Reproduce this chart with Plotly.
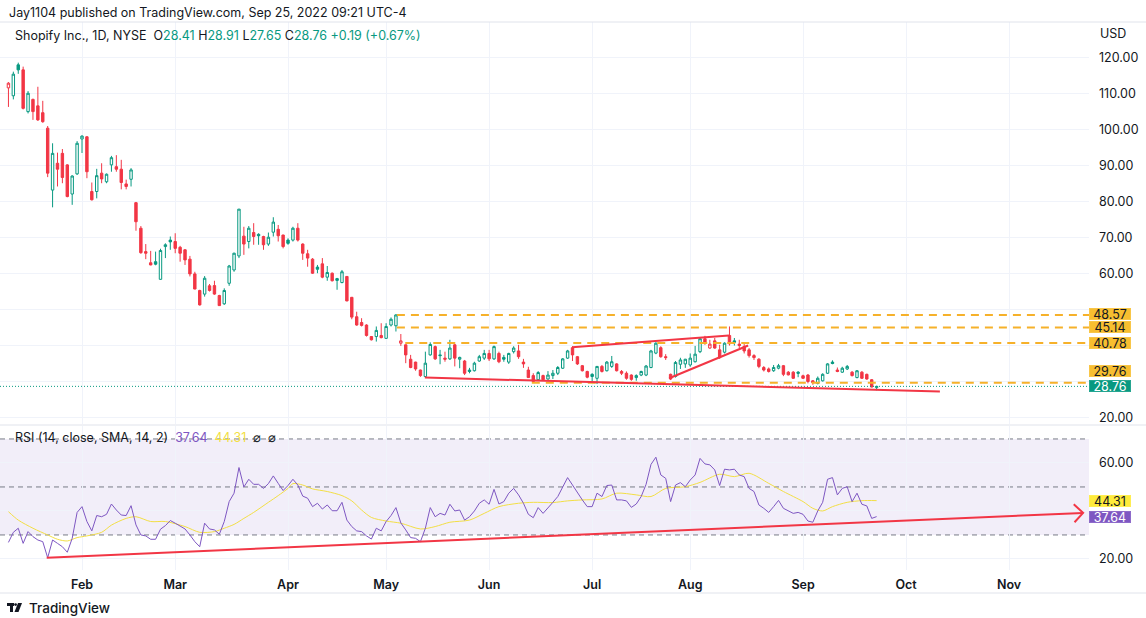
import math
import pandas as pd
import plotly.graph_objects as go

# ---------------- data ----------------
HOLIDAYS = ["2022-01-17", "2022-02-21", "2022-04-15", "2022-05-30", "2022-06-20",
            "2022-07-04", "2022-09-05", "2022-11-24", "2022-12-26"]
trading_days = pd.bdate_range("2022-01-03", "2022-12-30", freq="C", holidays=HOLIDAYS)
FIRST_BAR = "2022-01-10"
PRIOR_CLOSE = 116.0

open_ = [111.7, 109.5, 118.1, 116.7, 105.1, 108.5, 106.7, 104.8, 100.5, 83.3,
         90.75, 93.5, 90.3, 82.2, 87.8, 97.5, 98.1, 82.9, 82.9, 88.0,
         85.6, 90.3, 89.8, 89.1, 85.0, 86.3, 79.8, 72.7, 66.2, 63.1,
         63.4, 58.5, 67.6, 69.4, 69.0, 67.4, 66.7, 64.1, 60.0, 55.4,
         54.4, 56.7, 56.75, 54.0, 51.7, 57.4, 61.1, 65.0, 70.5, 69.0,
         71.5, 71.0, 70.4, 68.3, 71.6, 72.4, 70.8, 69.4, 69.4, 72.7,
         68.3, 65.6, 64.1, 61.9, 62.8, 59.1, 60.2, 58.7, 57.6, 59.3,
         53.5, 48.1, 46.5, 45.8, 42.6, 42.6, 42.9, 42.1, 45.8, 45.6,
         40.75, 40.3, 36.3, 35.5, 33.3, 31.5, 37.5, 39.8, 37.5, 36.6,
         36.4, 40.3, 36.3, 35.8, 33.3, 33.1, 35.8, 36.6, 37.9, 36.4,
         37.9, 36.8, 35.5, 38.4, 38.6, 35.5, 33.3, 31.75, 30.6, 31.75,
         30.8, 31.75, 32.4, 33.8, 36.6, 39.5, 37.0, 34.5, 32.9, 32.1,
         31.0, 34.3, 33.1, 34.3, 35.0, 32.9, 32.4, 31.9, 31.2, 31.9,
         31.9, 34.0, 38.0, 39.5, 37.0, 32.1, 31.5, 34.9, 35.0, 34.7,
         35.6, 38.4, 42.0, 39.4, 41.4, 38.9, 38.25, 42.9, 41.4, 40.5,
         39.8, 38.9, 37.3, 36.3, 34.0, 33.6, 33.1, 33.8, 34.5, 32.7,
         32.7, 32.7, 31.7, 31.9, 30.3, 29.6, 30.3, 32.4, 35.5, 33.3,
         32.7, 33.6, 32.7, 31.2, 32.7, 32.1, 30.6, 28.41]
high = [113.3, 116.2, 118.7, 117.6, 110.8, 108.7, 112.0, 108.1, 101.1, 96.3,
        93.7, 94.7, 90.5, 87.4, 96.9, 98.5, 98.3, 85.4, 89.2, 90.75,
        87.9, 92.8, 93.0, 91.7, 86.2, 89.4, 80.0, 73.3, 68.3, 66.4,
        66.2, 67.0, 68.5, 70.4, 71.3, 67.8, 66.9, 65.0, 60.6, 55.6,
        59.4, 57.2, 58.1, 54.2, 56.0, 62.5, 65.9, 78.0, 73.1, 73.3,
        74.1, 71.3, 70.6, 71.5, 75.75, 73.6, 70.9, 69.9, 73.1, 74.1,
        68.5, 66.7, 64.4, 62.5, 64.4, 62.2, 60.4, 58.9, 61.1, 59.4,
        53.6, 49.5, 47.7, 46.0, 42.7, 45.4, 46.3, 46.3, 47.9, 48.8,
        43.3, 40.4, 37.5, 35.6, 33.4, 38.4, 41.0, 40.1, 38.9, 38.4,
        41.7, 40.5, 37.0, 36.1, 33.9, 35.6, 37.5, 38.9, 38.9, 40.1,
        38.4, 37.5, 38.1, 39.9, 40.3, 36.4, 34.2, 32.4, 33.0, 32.0,
        33.0, 33.3, 34.4, 36.6, 38.9, 39.9, 37.2, 34.7, 33.1, 32.4,
        34.4, 34.7, 35.8, 37.2, 35.2, 33.3, 32.9, 32.1, 32.1, 33.1,
        34.7, 38.9, 41.0, 39.9, 37.7, 32.3, 35.8, 36.7, 36.4, 37.9,
        40.0, 42.2, 42.8, 41.7, 42.2, 40.3, 41.0, 45.4, 42.2, 41.7,
        40.5, 39.4, 37.7, 36.6, 34.4, 34.0, 34.7, 35.0, 34.7, 33.0,
        33.0, 33.0, 32.0, 32.2, 30.5, 31.5, 32.4, 35.2, 36.0, 34.0,
        34.2, 34.7, 33.0, 33.3, 33.0, 32.3, 30.8, 28.91]
low = [106.4, 108.5, 115.6, 105.7, 104.6, 102.8, 102.5, 102.0, 86.9, 78.5,
       84.3, 85.2, 81.3, 79.2, 87.5, 93.6, 86.6, 80.4, 81.0, 85.2,
       85.2, 88.4, 88.4, 83.5, 83.5, 84.3, 72.0, 65.6, 64.1, 62.4,
       62.4, 58.4, 64.4, 66.7, 65.75, 63.4, 62.5, 59.3, 55.75, 51.2,
       53.7, 55.1, 54.2, 51.1, 51.4, 56.7, 60.6, 64.4, 65.3, 67.1,
       68.1, 68.1, 66.7, 67.8, 70.4, 69.0, 67.1, 68.1, 69.0, 69.0,
       63.9, 62.0, 60.0, 60.2, 58.8, 58.1, 57.9, 55.6, 57.4, 52.4,
       47.4, 45.6, 45.4, 42.6, 41.5, 41.2, 42.1, 42.0, 45.4, 44.0,
       40.0, 35.2, 33.8, 33.1, 31.4, 31.2, 37.3, 36.1, 34.9, 35.6,
       36.1, 34.3, 33.8, 31.9, 32.4, 32.9, 35.6, 36.1, 35.8, 36.1,
       35.2, 35.6, 35.0, 37.9, 36.4, 33.9, 31.1, 30.0, 30.3, 30.3,
       30.6, 30.8, 31.9, 33.6, 36.4, 35.8, 34.7, 32.9, 31.0, 29.9,
       29.4, 32.6, 32.9, 33.9, 32.9, 31.9, 30.6, 30.3, 30.3, 31.6,
       31.6, 33.8, 37.7, 36.7, 36.1, 30.5, 31.2, 33.6, 33.9, 34.2,
       35.4, 38.0, 40.3, 39.2, 39.2, 36.4, 37.9, 40.1, 40.1, 39.4,
       37.9, 36.75, 36.1, 33.8, 32.9, 32.6, 32.8, 33.5, 31.6, 31.8,
       30.8, 31.3, 30.8, 29.6, 29.2, 29.3, 30.1, 32.2, 34.9, 32.7,
       32.5, 33.3, 31.5, 31.0, 30.8, 30.6, 28.5, 27.65]
close = [113.0, 115.5, 116.7, 106.0, 110.2, 105.1, 102.8, 102.3, 88.0, 93.5,
         89.1, 86.8, 81.5, 87.2, 96.3, 98.3, 88.4, 80.6, 87.3, 86.4,
         87.7, 92.3, 89.1, 85.4, 84.3, 88.9, 74.5, 65.9, 65.75, 62.5,
         62.7, 66.5, 68.1, 68.9, 67.1, 65.75, 63.9, 60.0, 55.8, 51.4,
         58.8, 55.4, 54.4, 51.2, 55.4, 62.2, 65.75, 78.0, 68.3, 72.7,
         70.4, 70.6, 68.1, 70.2, 74.4, 70.6, 67.6, 68.5, 72.7, 69.4,
         65.75, 64.4, 60.2, 61.3, 59.1, 60.4, 58.1, 58.2, 60.6, 52.5,
         48.0, 45.8, 45.7, 42.9, 41.7, 44.3, 42.3, 45.4, 47.4, 48.6,
         41.4, 37.5, 34.0, 33.6, 31.75, 35.2, 40.4, 36.4, 37.3, 36.3,
         39.4, 36.6, 36.8, 32.4, 32.9, 35.2, 37.0, 37.9, 36.4, 39.8,
         35.6, 36.3, 37.9, 39.4, 37.0, 35.0, 31.2, 30.1, 32.6, 30.6,
         31.9, 32.4, 34.0, 36.4, 38.6, 37.5, 35.0, 33.1, 31.3, 31.5,
         34.3, 32.9, 35.5, 35.6, 33.1, 32.4, 31.0, 30.7, 31.75, 32.9,
         34.4, 38.6, 40.75, 37.0, 36.75, 30.8, 35.4, 36.1, 36.3, 36.6,
         37.7, 42.0, 40.75, 40.5, 39.4, 36.75, 40.75, 40.6, 41.0, 40.1,
         38.6, 37.3, 36.75, 34.3, 33.3, 32.9, 34.0, 34.5, 32.1, 31.95,
         31.0, 32.4, 31.0, 30.1, 29.8, 31.0, 32.1, 35.0, 35.1, 32.9,
         33.8, 34.3, 31.75, 33.1, 31.0, 30.8, 28.57, 28.76]

rsi = [26.9, 31.1, 32.8, 26.5, 31.4, 29.3, 27.9, 27.2, 20.5, 27.9,
       26.5, 25.1, 22.8, 28.6, 39.4, 41.8, 35.6, 31.7, 38.1, 37.6,
       38.6, 42.9, 40.4, 38.3, 38.1, 42.2, 34.2, 30.0, 29.6, 28.2,
       28.2, 32.4, 33.9, 36.0, 34.9, 33.7, 32.5, 30.0, 27.2, 25.1,
       34.9, 32.5, 32.1, 30.3, 35.6, 43.9, 47.4, 58.1, 50.0, 53.2,
       51.1, 51.1, 49.4, 51.4, 54.6, 51.5, 48.5, 50.6, 53.2, 50.8,
       46.2, 45.3, 41.8, 43.2, 40.8, 42.5, 40.1, 40.1, 43.6, 36.2,
       33.5, 31.7, 31.4, 29.6, 28.3, 32.8, 31.7, 35.6, 38.1, 41.4,
       35.0, 32.1, 28.9, 28.6, 27.2, 32.8, 41.4, 37.6, 39.0, 38.3,
       42.8, 40.0, 40.4, 36.2, 37.6, 40.0, 43.2, 44.6, 42.8, 49.0,
       42.9, 43.9, 47.4, 49.4, 46.7, 43.2, 38.6, 37.2, 41.4, 39.0,
       41.1, 43.6, 46.0, 50.1, 53.9, 50.8, 47.4, 44.6, 41.8, 41.8,
       47.4, 46.0, 50.6, 50.8, 44.6, 44.6, 44.2, 41.5, 42.9, 46.0,
       51.1, 59.4, 62.4, 55.0, 53.6, 43.9, 50.8, 51.8, 50.1, 52.9,
       55.0, 61.9, 59.6, 59.2, 57.1, 50.6, 57.4, 57.1, 57.4, 55.0,
       54.3, 49.4, 48.1, 42.5, 41.1, 39.4, 41.8, 44.4, 41.1, 40.0,
       39.0, 39.4, 38.6, 35.8, 35.3, 40.0, 43.6, 53.2, 53.9, 46.7,
       49.4, 50.1, 43.9, 47.4, 42.8, 42.1, 36.9, 37.64]

# RSI-based MA (trading-day index, value)
sma_at = [5, 7, 10, 13, 15, 17, 19, 21, 24, 26, 29, 31, 34, 37, 41, 44, 47, 49, 51, 53,
          55, 58, 60, 62, 63, 65, 67, 70, 73, 75, 77, 79, 82, 85, 89, 92, 95, 99, 102, 105,
          109, 112, 116, 119, 122, 126, 129, 133, 136, 139, 143, 146, 150, 153, 156, 160, 163,
          167, 169, 171, 173, 176, 179, 182]
sma_val = [39.7, 36.2, 32.8, 30.0, 28.2, 27.5, 28.9, 29.6, 31.1, 34.1, 36.9, 37.6, 35.6, 35.6,
           33.5, 31.1, 31.4, 32.8, 34.4, 36.9, 39.4, 43.6, 46.4, 49.4, 51.4, 50.8, 49.2, 48.1,
           46.4, 44.2, 40.4, 37.3, 35.8, 34.9, 32.5, 33.5, 35.3, 36.2, 39.0, 41.8, 43.2, 43.6,
           43.5, 44.2, 44.6, 45.0, 47.4, 46.7, 46.0, 49.4, 50.1, 51.9, 55.3, 54.3, 55.7, 51.5,
           48.1, 43.9, 41.1, 40.0, 41.8, 43.6, 44.3, 44.31]

# user drawings (trading-day index, value)
level_prices = [48.57, 45.14, 40.78, 29.76]
level_from = [84.2, 84.2, 85.9, 111.7]
level_label_shift = [1, 0, 0, 12]
support_x, support_y = [89.9, 194.9], [31.2, 27.3]
upper_x, upper_y = [119.9, 151.9], [39.6, 42.9]
rising_x, rising_y = [139.7, 155.8], [31.0, 40.1]
rsi_trend_x, rsi_trend_y = [12.8, 224.1], [20.5, 39.2]

MONTHS = ["Feb", "Mar", "Apr", "May", "Jun", "Jul", "Aug", "Sep", "Oct", "Nov"]
price_ticks = [20, 30, 40, 50, 60, 70, 80, 90, 100, 110, 120]
price_hidden = [30, 40, 50]        # tick texts covered by value labels in the original
rsi_ticks = [20, 40, 60]
rsi_hidden = [40]
LAST_CLOSE = 28.76
LAST_RSI, LAST_SMA = 37.64, 44.31

# ---------------- derived ----------------
start = trading_days.get_loc(pd.Timestamp(FIRST_BAR))
n = len(close)
idx = list(range(start, start + n))
month_idx = []
for k, m in enumerate(MONTHS):
    mnum = k + 2
    first = [j for j, d in enumerate(trading_days) if d.month == mnum][0]
    month_idx.append(first)

prev = [PRIOR_CLOSE] + close[:-1]
up = [c >= p for c, p in zip(close, prev)]

# ---------------- style/geometry ----------------
W, H = 1146, 618
PLOT_R, PLOT_T, PLOT_B = 1089, 22, 570
PRICE_BOTTOM_PX, RSI_TOP_PX = 424, 426
X_RANGE = [3.28, 225.3]
PRICE_RANGE = [18.3, 130.0]
RSI_RANGE = [15.4, 75.4]
GREEN, RED = "#089981", "#F23645"
ORANGE, ORANGE_LBL = "#F6B12A", "#F7BE30"
PURPLE, YELLOW = "#7E57C2", "#F3DF45"
TEXT = "#131722"
GRID = "#F0F3FA"
FONT = "Inter, Roboto, Arial, sans-serif"


def px(x):
    return x / PLOT_R


def py(y):
    return (PLOT_B - y) / (PLOT_B - PLOT_T)


fig = go.Figure()


def candles(sel, color):
    return go.Candlestick(
        x=[idx[k] for k in sel], open=[open_[k] for k in sel], high=[high[k] for k in sel],
        low=[low[k] for k in sel], close=[close[k] for k in sel],
        increasing=dict(line=dict(color=color, width=1), fillcolor="#FFFFFF"),
        decreasing=dict(line=dict(color=color, width=1), fillcolor=color),
        whiskerwidth=0, xaxis="x", yaxis="y", hoverinfo="skip")


fig.add_trace(candles([k for k in range(n) if up[k]], GREEN))
fig.add_trace(candles([k for k in range(n) if not up[k]], RED))

# last price dotted line
fig.add_trace(go.Scatter(x=X_RANGE, y=[LAST_CLOSE, LAST_CLOSE], mode="lines",
                         line=dict(color=GREEN, width=1, dash="1px,2px"), xaxis="x", yaxis="y"))
# horizontal levels
for lv, x0 in zip(level_prices, level_from):
    fig.add_trace(go.Scatter(x=[x0, X_RANGE[1]], y=[lv, lv], mode="lines",
                             line=dict(color=ORANGE, width=2, dash="8px,6px"), xaxis="x", yaxis="y"))
# trend lines
for xs, ys in [(support_x, support_y), (upper_x, upper_y), (rising_x, rising_y)]:
    fig.add_trace(go.Scatter(x=xs, y=ys, mode="lines", line=dict(color=RED, width=2),
                             xaxis="x", yaxis="y"))

# RSI pane
fig.add_trace(go.Scatter(x=sma_at, y=sma_val, mode="lines",
                         line=dict(color=YELLOW, width=1, shape="spline", smoothing=0.8),
                         xaxis="x2", yaxis="y2"))
fig.add_trace(go.Scatter(x=idx, y=rsi, mode="lines", line=dict(color=PURPLE, width=1),
                         xaxis="x2", yaxis="y2"))
fig.add_trace(go.Scatter(x=rsi_trend_x, y=rsi_trend_y, mode="lines", line=dict(color=RED, width=2),
                         xaxis="x2", yaxis="y2"))
# arrow chevron at end of RSI trend line
ppb = PLOT_R / (X_RANGE[1] - X_RANGE[0])
ppr = (PLOT_B - RSI_TOP_PX) / (RSI_RANGE[1] - RSI_RANGE[0])
dxp = (rsi_trend_x[1] - rsi_trend_x[0]) * ppb
dyp = (rsi_trend_y[1] - rsi_trend_y[0]) * ppr
L = math.hypot(dxp, dyp)
vx, vy = -dxp / L, -dyp / L
arm = 12.7
pts = []
for s in (1, -1):
    a = math.radians(45) * s
    bx = vx * math.cos(a) - vy * math.sin(a)
    by = vx * math.sin(a) + vy * math.cos(a)
    pts.append((rsi_trend_x[1] + bx * arm / ppb, rsi_trend_y[1] + by * arm / ppr))
fig.add_trace(go.Scatter(x=[pts[0][0], rsi_trend_x[1], pts[1][0]],
                         y=[pts[0][1], rsi_trend_y[1], pts[1][1]], mode="lines",
                         line=dict(color=RED, width=2), xaxis="x2", yaxis="y2"))

price_dom = [py(PRICE_BOTTOM_PX), 1]
rsi_dom = [0, py(RSI_TOP_PX)]

axis_font = dict(family=FONT, size=12.5, color=TEXT)
fig.update_layout(
    width=W, height=H, margin=dict(l=0, r=W - PLOT_R, t=PLOT_T, b=H - PLOT_B),
    paper_bgcolor="white", plot_bgcolor="white", showlegend=False, hovermode=False,
    font=dict(family=FONT, size=12.5, color=TEXT),
    xaxis=dict(domain=[0, 1], anchor="y", range=X_RANGE, tickvals=month_idx, showticklabels=False,
               showgrid=True, gridcolor=GRID, zeroline=False, rangeslider=dict(visible=False),
               ticks="", showline=False),
    xaxis2=dict(domain=[0, 1], anchor="y2", matches="x", range=X_RANGE, tickvals=month_idx, ticktext=MONTHS,
                showgrid=True, gridcolor=GRID, zeroline=False, ticks="", showline=False,
                tickfont=dict(family=FONT, size=12.5, color=TEXT, weight=600), ticklabelstandoff=5),
    yaxis=dict(domain=price_dom, anchor="x", range=PRICE_RANGE, side="right", tickvals=price_ticks,
               ticktext=["" if v in price_hidden else f"{v:.2f}" for v in price_ticks],
               showgrid=True, gridcolor=GRID,
               zeroline=False, ticks="", showline=False, tickfont=axis_font, ticklabelstandoff=9),
    yaxis2=dict(domain=rsi_dom, anchor="x2", range=RSI_RANGE, side="right", tickvals=rsi_ticks,
                ticktext=["" if v in rsi_hidden else f"{v:.2f}" for v in rsi_ticks],
                showgrid=True, gridcolor=GRID,
                zeroline=False, ticks="", showline=False, tickfont=axis_font, ticklabelstandoff=9),
)

shapes = []
# RSI band and band lines
shapes.append(dict(type="rect", xref="x2 domain", yref="y2", x0=0, x1=1, y0=30, y1=70,
                   fillcolor="rgba(126,87,194,0.1)", line=dict(width=0), layer="below"))
for lv in (70, 50, 30):
    shapes.append(dict(type="line", xref="x2 domain", yref="y2", x0=0, x1=1, y0=lv, y1=lv,
                       line=dict(color="#787B86", width=1, dash="5px,4px"), layer="below"))
# frame / separators
for yy in (PLOT_T, 425, 593):
    shapes.append(dict(type="line", xref="paper", yref="paper", x0=0, x1=px(W), y0=py(yy), y1=py(yy),
                       line=dict(color="#E0E3EB", width=1)))
# logo
shapes.append(dict(type="rect", xref="paper", yref="paper", x0=px(7), x1=px(14), y0=py(606), y1=py(603),
                   fillcolor=TEXT, line=dict(width=0)))
shapes.append(dict(type="rect", xref="paper", yref="paper", x0=px(10), x1=px(13), y0=py(612), y1=py(603),
                   fillcolor=TEXT, line=dict(width=0)))
shapes.append(dict(type="circle", xref="paper", yref="paper", x0=px(14.2), x1=px(17), y0=py(606), y1=py(603.2),
                   fillcolor=TEXT, line=dict(width=0)))
shapes.append(dict(type="path", xref="paper", yref="paper",
                   path=f"M {px(18)},{py(603)} L {px(22)},{py(603)} L {px(18.5)},{py(612)} L {px(14.5)},{py(612)} Z",
                   fillcolor=TEXT, line=dict(width=0)))
fig.update_layout(shapes=shapes)

ann = []
ann.append(dict(xref="paper", yref="paper", x=px(7), y=py(13), xanchor="left", yanchor="middle",
                text="Jay1104 published on TradingView.com, Sep 25, 2022 09:21 UTC-4", showarrow=False,
                font=dict(family=FONT, size=12.5, color=TEXT)))
g = lambda t: f"<span style='color:{GREEN}'>{t}</span>"
ann.append(dict(xref="paper", yref="paper", x=px(13), y=py(35), xanchor="left", yanchor="middle",
                text="Shopify Inc., 1D, NYSE\u00a0\u00a0O" + g("28.41") + "\u00a0H" + g("28.91") + "\u00a0L"
                     + g("27.65") + "\u00a0C" + g("28.76") + "\u00a0" + g("+0.19 (+0.67%)"),
                showarrow=False, font=dict(family=FONT, size=12.5, color=TEXT)))
ann.append(dict(xref="paper", yref="paper", x=px(1098), y=py(33), xanchor="left", yanchor="middle",
                text="USD", showarrow=False, font=dict(family=FONT, size=12.5, color=TEXT)))
ann.append(dict(xref="paper", yref="paper", x=px(13), y=py(437), xanchor="left", yanchor="middle",
                text="RSI (14, close, SMA, 14, 2)\u00a0\u00a0<span style='color:" + PURPLE + "'>37.64</span>\u00a0\u00a0"
                     + "<span style='color:" + YELLOW + "'>44.31</span>\u00a0\u00a0⌀\u00a0\u00a0⌀",
                showarrow=False, font=dict(family=FONT, size=12.5, color=TEXT)))
ann.append(dict(xref="paper", yref="paper", x=px(27), y=py(608), xanchor="left", yanchor="middle",
                text="TradingView", showarrow=False, font=dict(family=FONT, size=13.5, color=TEXT, weight=500)))


def label(val, yref, bg, fg, yshift=0):
    return dict(xref="paper", yref=yref, x=1, y=val, xanchor="left", yanchor="middle", yshift=yshift,
                text=f"{val:.2f}", showarrow=False, bgcolor=bg, bordercolor=bg, borderwidth=0.5, borderpad=0,
                width=41, height=11, align="center", font=dict(family=FONT, size=12.5, color=fg))


for lv, sh in zip(level_prices, level_label_shift):
    ann.append(label(lv, "y", ORANGE_LBL, TEXT, sh))
ann.append(label(LAST_CLOSE, "y", GREEN, "#FFFFFF"))
ann.append(label(LAST_SMA, "y2", "#FFEB3B", TEXT))
ann.append(label(LAST_RSI, "y2", PURPLE, "#FFFFFF"))
fig.update_layout(annotations=ann)

fig.write_html("out.html", config={"displayModeBar": False},
               post_script="document.body.style.margin='0px';")
